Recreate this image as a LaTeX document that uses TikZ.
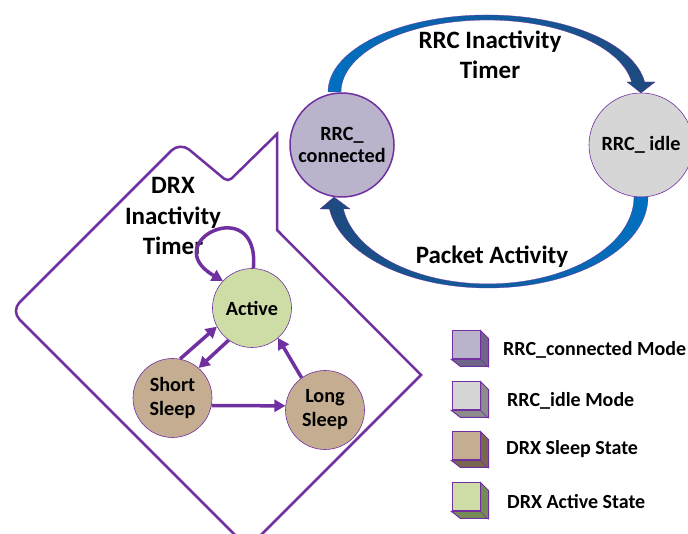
\documentclass[tikz,border=0pt]{standalone}
\usepackage{fontspec}
\setmainfont{Carlito}
\usetikzlibrary{arrows.meta}
\usetikzlibrary{positioning}
\definecolor{drxpurple}{RGB}{112,48,160}
\definecolor{connfill}{RGB}{186,179,204}
\definecolor{connside}{RGB}{112,102,138}
\definecolor{idlefill}{RGB}{214,214,214}
\definecolor{idleside}{RGB}{140,140,140}
\definecolor{sleepfill}{RGB}{196,173,144}
\definecolor{sleepside}{RGB}{122,102,78}
\definecolor{activefill}{RGB}{206,221,165}
\definecolor{activeside}{RGB}{118,140,86}
\definecolor{rrcblue}{RGB}{0,112,192}
\definecolor{rrcnavy}{RGB}{31,73,125}
\newcommand{\legendcube}[4]{% name, position, front, side
  \node[cube node,fill=#3] (#1) at #2 {};
  \filldraw[draw=drxpurple,line width=1pt,fill=#4] (#1.north east) -- ++(8,-8) -- ++(0,-28) -- ++(-28,0) -- (#1.south west) -- (#1.south east) -- cycle;
  \draw[drxpurple,line width=0.6pt] (#1.south east) -- ++(8,-8);
}

\begin{document}
\begin{tikzpicture}[x=1pt,y=1pt,
    rrc node/.style={circle,draw=drxpurple,minimum size=104pt,inner sep=0pt,align=center,font=\bfseries\fontsize{20.2}{22}\selectfont},
    drx node/.style={circle,draw=drxpurple,line width=0.6pt,minimum size=79pt,inner sep=0pt,align=center,font=\bfseries\fontsize{20.2}{24}\selectfont},
    big label/.style={align=center,font=\bfseries\fontsize{25}{30}\selectfont},
    legend label/.style={anchor=west,inner sep=0pt,font=\bfseries\fontsize{20}{22}\selectfont},
    drx arrow/.style={draw=drxpurple,line width=3.5pt,-{Triangle[length=11pt,width=12pt]}},
    cube node/.style={rectangle,draw=drxpurple,line width=1pt,minimum size=28pt,inner sep=0pt}]
  \useasboundingbox (0,0) rectangle (688,534);
  \clip (0,0) rectangle (688,534);

  % callout round the DRX states
  \draw[drxpurple,line width=2.5pt] (228,352) -- (277,400) -- (277,304) -- (421,159) [rounded corners=12] -- (248,-14) -- (11,223) -- (180,392) [rounded corners=5] -- cycle;

  % RRC states
  \node[rrc node,fill=connfill,line width=1.5pt] (conn) at (342,389) {RRC\_\\connected};
  \node[rrc node,fill=idlefill,line width=0.6pt] (idle) at (641,389) {RRC\_ idle};

  % blue arrows
  \path[draw=drxpurple,line width=0.3pt,left color=rrcblue,right color=rrcnavy]
    (328,442) arc[start angle=180,end angle=7.5,x radius=159,y radius=77]
    -- (655,452) -- (641,441) -- (627,452) -- (631.6,452)
    arc[start angle=8,end angle=180,x radius=146,y radius=72] -- cycle;
  \path[draw=drxpurple,line width=0.3pt,left color=rrcnavy,right color=rrcblue]
    (648,337) arc[start angle=0,end angle=-172.4,x radius=160,y radius=91]
    -- (320,325) -- (334,337) -- (350,325) -- (343.4,325)
    arc[start angle=-172,end angle=0,x radius=146,y radius=87] -- cycle;
  \node[big label] (inactlabel) at (490,479) {RRC Inactivity\\Timer};
  \node[big label] (packetlabel) at (492,277) {Packet Activity};

  % DRX states
  \node[drx node,fill=activefill] (active) at (252,226) {Active};
  \node[drx node,fill=sleepfill] (short) at (172.5,136) {Short\\Sleep};
  \node[drx node,fill=sleepfill] (long) at (325,124) {Long\\Sleep};
  \node[big label,font=\bfseries\fontsize{25}{30.5}\selectfont] (drxlabel) at (173,318) {DRX\\Inactivity\\Timer};
  \path (short.79) edge[drx arrow] (active.208);
  \path (active.234) edge[drx arrow] (short.49);
  \path (short.-11) edge[drx arrow] (long.174);
  \path (long.126) edge[drx arrow] (active.311);
  \path (active.88) edge[drx arrow,out=85,in=150,looseness=6] (active.137);

  % legend
  \legendcube{cubeconn}{(466,189)}{connfill}{connside}
  \legendcube{cubeidle}{(466,138)}{idlefill}{idleside}
  \legendcube{cubesleep}{(466,88)}{sleepfill}{sleepside}
  \legendcube{cubeactive}{(466,37)}{activefill}{activeside}
  \node[legend label] (legconn) at (503,184) {RRC\_connected Mode};
  \node[legend label] (legidle) at (507,133) {RRC\_idle Mode};
  \node[legend label] (legsleep) at (506,85) {DRX Sleep State};
  \node[legend label] (legactive) at (507,32) {DRX Active State};
\end{tikzpicture}
\end{document}
